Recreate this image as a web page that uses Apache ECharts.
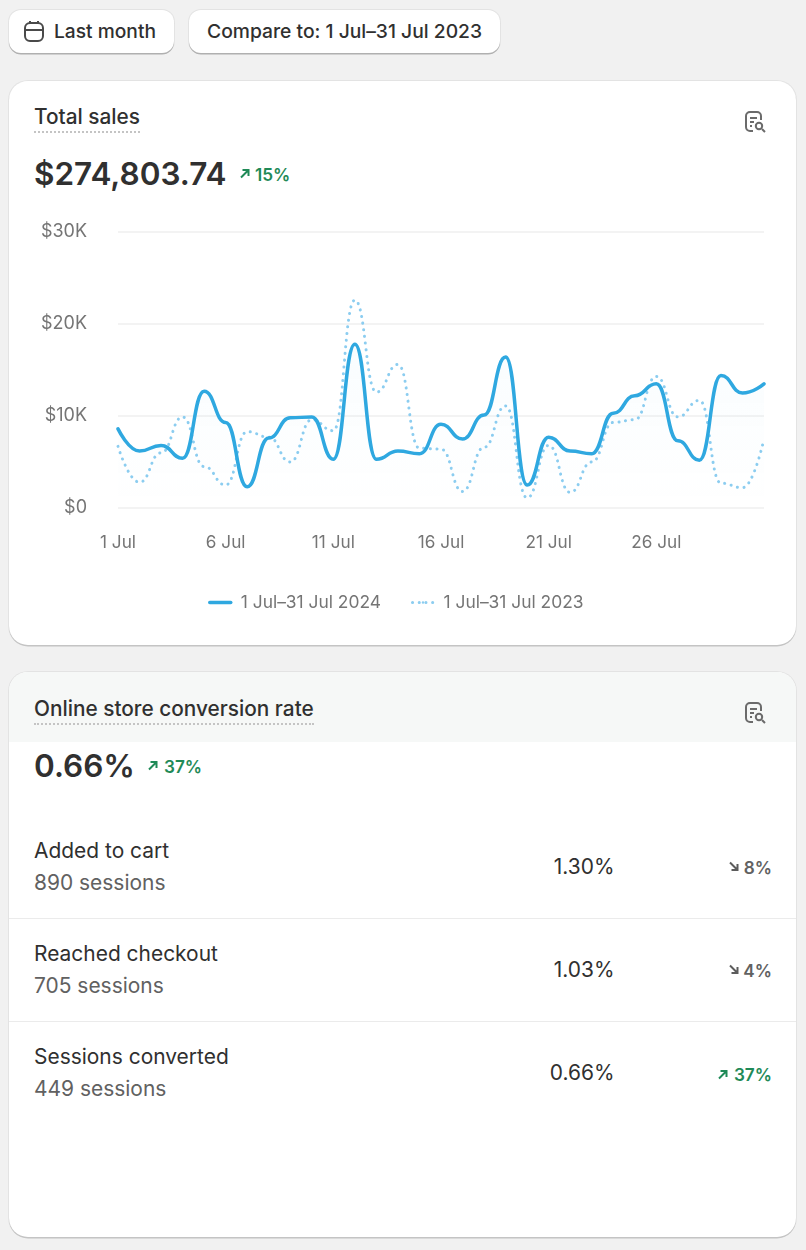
<!DOCTYPE html>
<html><head><meta charset="utf-8">
<script src="https://cdn.jsdelivr.net/npm/echarts@6/dist/echarts.min.js"></script>
<style>
html,body{margin:0;padding:0;width:806px;height:1250px;overflow:hidden;background:#f1f1f1;font-family:Inter,sans-serif;color:#303030}
.a{position:absolute;white-space:nowrap;line-height:1}
.btn{position:absolute;top:10px;height:43px;background:#fff;border-radius:12px;box-shadow:0 1.5px 0 #b0b0b0,0 0 0 1px #e3e3e3}
.card{position:absolute;left:9px;width:787px;background:#fff;border-radius:19px;box-shadow:0 1.5px 0 #c4c4c4,0 0 0 1px #e3e3e3;overflow:hidden}
.t{font-weight:500;font-size:20.8px;border-bottom:2px dotted #c4c4c4;padding-bottom:3px}
.big{font-weight:600;font-size:31.5px}
.g{color:#1f8a57;font-weight:600;font-size:17.2px}
.n{font-size:20.95px}.s{font-size:20.95px;color:#616161}
.h{position:absolute;left:9px;width:787px;height:1px;background:#ebebeb}
</style></head><body>
<div class="btn" style="left:9px;width:165px"></div>
<div class="btn" style="left:189px;width:311px"></div>
<svg class="a" style="left:23px;top:20px" width="22" height="23" viewBox="0 0 22 23" fill="none" stroke="#4a4a4a" stroke-width="2"><rect x="2" y="3" width="18" height="18" rx="5"/><path d="M2 10h18M7 1v3M15 1v3"/></svg>
<div class="a" style="left:54px;top:22px;font-size:19.2px;font-weight:500">Last month</div>
<div class="a" style="left:207px;top:22px;font-size:19.3px;font-weight:500">Compare to: 1 Jul–31 Jul 2023</div>

<div class="card" style="top:81px;height:564px"></div>
<div class="a t" style="left:34px;top:107px">Total sales</div>
<svg class="a" style="left:744px;top:110px" width="24" height="24" viewBox="0 0 24 24" fill="none" stroke="#6b6b6b" stroke-width="2"><path d="M9 21H6a4 4 0 0 1-4-4V6a4 4 0 0 1 4-4h7a4 4 0 0 1 4 4v4"/><path d="M6 8h7M6 12h4M6 16h2"/><circle cx="15" cy="16" r="3.2"/><path d="M18 19l3 3"/></svg>
<div class="a big" style="left:34px;top:158px">$274,803.74</div>
<svg class="a" style="left:239px;top:168px" width="11" height="11" viewBox="0 0 11 11" fill="none" stroke="#1f8a57" stroke-width="2"><path d="M2 9.5L9 2.5M3.5 2h6v6"/></svg>
<div class="a g" style="left:255px;top:166px">15%</div>

<div id="chart" style="position:absolute;left:9px;top:200px;width:787px;height:430px"></div>

<div class="card" style="top:672px;height:565px"><div style="height:70px;background:#f6f8f7"></div></div>
<div class="a t" style="left:34px;top:699px">Online store conversion rate</div>
<svg class="a" style="left:744px;top:701px" width="24" height="24" viewBox="0 0 24 24" fill="none" stroke="#6b6b6b" stroke-width="2"><path d="M9 21H6a4 4 0 0 1-4-4V6a4 4 0 0 1 4-4h7a4 4 0 0 1 4 4v4"/><path d="M6 8h7M6 12h4M6 16h2"/><circle cx="15" cy="16" r="3.2"/><path d="M18 19l3 3"/></svg>
<div class="a big" style="left:34px;top:750px">0.66%</div>
<svg class="a" style="left:147px;top:760px" width="11" height="11" viewBox="0 0 11 11" fill="none" stroke="#1f8a57" stroke-width="2"><path d="M2 9.5L9 2.5M3.5 2h6v6"/></svg>
<div class="a g" style="left:164px;top:758px">37%</div>

<div class="a n" style="left:34px;top:841px">Added to cart</div>
<div class="a s" style="left:34px;top:873px">890 sessions</div>
<div class="a n" style="right:191.5px;top:857px">1.30%</div>
<svg class="a" style="left:728px;top:861px" width="11" height="11" viewBox="0 0 11 11" fill="none" stroke="#5c5c5c" stroke-width="2"><path d="M2 1.5L9 8.5M9.5 3v6h-6"/></svg>
<div class="a" style="right:34px;top:859px;font-size:17.2px;font-weight:600;color:#616161">8%</div>
<div class="h" style="top:918px"></div>

<div class="a n" style="left:34px;top:944px">Reached checkout</div>
<div class="a s" style="left:34px;top:976px">705 sessions</div>
<div class="a n" style="right:191.5px;top:960px">1.03%</div>
<svg class="a" style="left:728px;top:964px" width="11" height="11" viewBox="0 0 11 11" fill="none" stroke="#5c5c5c" stroke-width="2"><path d="M2 1.5L9 8.5M9.5 3v6h-6"/></svg>
<div class="a" style="right:34px;top:962px;font-size:17.2px;font-weight:600;color:#616161">4%</div>
<div class="h" style="top:1021px"></div>

<div class="a n" style="left:34px;top:1047px">Sessions converted</div>
<div class="a s" style="left:34px;top:1079px">449 sessions</div>
<div class="a n" style="right:191.5px;top:1063px">0.66%</div>
<svg class="a" style="left:717px;top:1069px" width="11" height="11" viewBox="0 0 11 11" fill="none" stroke="#1f8a57" stroke-width="2"><path d="M2 9.5L9 2.5M3.5 2h6v6"/></svg>
<div class="a g" style="right:34px;top:1066px">37%</div>

<script>
const days = ['1 Jul','2 Jul','3 Jul','4 Jul','5 Jul','6 Jul','7 Jul','8 Jul','9 Jul','10 Jul','11 Jul','12 Jul','13 Jul','14 Jul','15 Jul','16 Jul','17 Jul','18 Jul','19 Jul','20 Jul','21 Jul','22 Jul','23 Jul','24 Jul','25 Jul','26 Jul','27 Jul','28 Jul','29 Jul','30 Jul','31 Jul'];
const sales2024 = [8600,6200,6800,5400,12700,9300,2300,7600,9800,9900,5300,17800,5300,6200,5900,9100,7500,10100,16400,2500,7700,6200,5900,10300,12200,13500,7300,5200,14400,12500,13500];
const sales2023 = [6700,2800,6000,9900,4500,2500,8300,7700,5000,9600,8400,22600,12600,15600,6500,6400,1800,6600,11100,1100,6800,1700,5000,9300,9600,14300,9900,11700,2700,2200,7500];
const yTicks = {0:'$0',10000:'$10K',20000:'$20K',30000:'$30K'};
const nameA = '1 Jul–31 Jul 2024', nameB = '1 Jul–31 Jul 2023';
const chart = echarts.init(document.getElementById('chart'), null, {renderer:'canvas'});
chart.setOption({
  animation:false,
  textStyle:{fontFamily:'Inter'},
  grid:{left:109,right:32,top:32,height:276,containLabel:false},
  legend:{top:389,left:194,itemWidth:21,itemHeight:3,itemGap:30,lineStyle:{width:'inherit'},
    textStyle:{color:'#757575',fontSize:17.4,fontFamily:'Inter',padding:[0,0,0,5]},data:[nameA,nameB]},
  xAxis:{type:'category',data:days,boundaryGap:false,axisLine:{show:false},axisTick:{show:false},
    axisLabel:{color:'#757575',fontSize:17.2,margin:26,interval:(i)=>i%5===0&&i<30}},
  yAxis:{type:'value',min:0,max:30000,interval:10000,axisLine:{show:false},axisTick:{show:false},
    splitLine:{lineStyle:{color:'#efefef',width:1.5}},
    axisLabel:{color:'#757575',fontSize:18,margin:31,formatter:v=>yTicks[v]}},
  series:[
    {name:nameB,type:'line',data:sales2023,smooth:0.5,smoothMonotone:'x',symbol:'none',z:2,
     lineStyle:{color:'#8ccdf0',width:3,type:[0.1,6.6],cap:'round'},itemStyle:{color:'#8ccdf0'}},
    {name:nameA,type:'line',data:sales2024,smooth:0.5,smoothMonotone:'x',symbol:'none',z:3,
     lineStyle:{color:'#2fa8e0',width:3.5,cap:'round'},itemStyle:{color:'#2fa8e0'},
     areaStyle:{color:new echarts.graphic.LinearGradient(0,0,0,1,[{offset:0,color:'rgba(47,168,224,0.04)'},{offset:1,color:'rgba(47,168,224,0.0)'}])}}
  ]
});
</script>
</body></html>
